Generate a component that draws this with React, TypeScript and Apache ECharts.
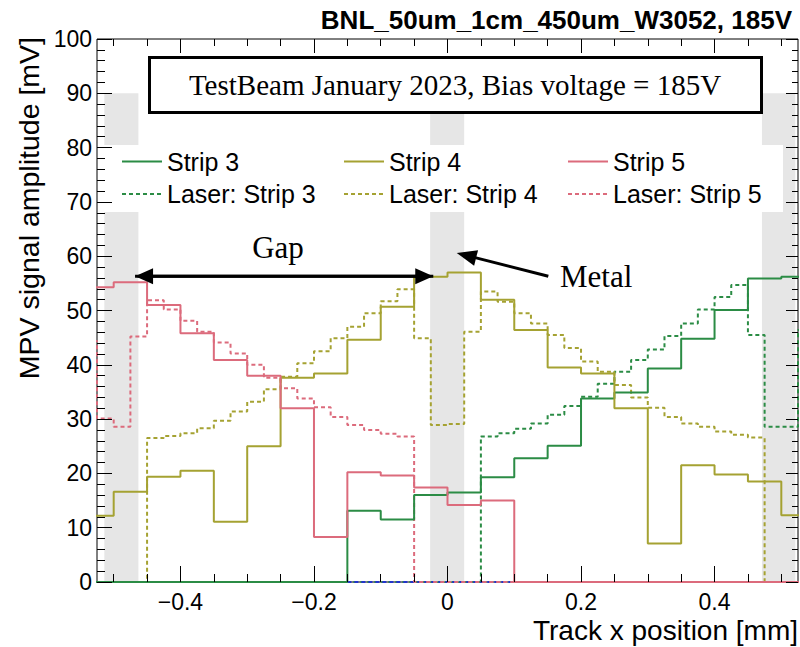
import React, { useEffect, useRef } from "react";
import * as echarts from "echarts";

// ---------- data ----------
const X_MIN = -0.525;
const X_MAX = 0.525;

// beam-test strips: bins of 0.05 mm starting at -0.55 mm
const STRIP_BIN_START = -0.55;
const STRIP_BIN_WIDTH = 0.05;
const strip3 = [0, 0, 0, 0, 0, 0, 0, 0, 13.1, 11.5, 16.0, 16.5, 19.3, 22.8, 25.1, 33.8, 34.9, 39.3, 44.8, 50.1, 55.9, 56.2];
const strip4 = [12.2, 16.6, 19.4, 20.5, 11.1, 25.0, 37.6, 38.4, 44.6, 50.7, 56.2, 57.0, 52.0, 46.4, 39.5, 38.4, 32.0, 7.1, 21.5, 19.8, 18.5, 12.3];
const strip5 = [54.3, 55.2, 51.0, 45.8, 40.9, 38.0, 32.0, 8.3, 20.2, 19.6, 17.4, 14.2, 15.0, 0, 0, 0, 0, 0, 0, 0, 0, 0];

// laser scan: bins of 0.025 mm starting at -0.55 mm
const LASER_BIN_START = -0.55;
const LASER_BIN_WIDTH = 0.025;
const laser3 = [
  0, 0, 0, 0, 0, 0, 0, 0, 0, 0, 0, 0, 0, 0, 0, 0, 0, 0, 0, 0, 0, 0, 0, 0,
  26.8, 27.4, 28.2, 29.2, 30.8, 32.4, 34.1, 36.5, 38.7, 40.9, 42.8, 45.3, 47.6, 50.2, 52.5, 54.7,
  45.5, 28.6, 28.6, 46.4,
];
const laser4 = [
  0, 0, 0, 0,
  26.5, 26.9, 27.4, 28.3, 29.7, 31.4, 33.2, 35.5, 37.8, 40.3, 42.5, 44.9, 47.0, 49.5, 51.7, 53.9,
  44.9, 28.9, 29.1, 46.1,
  53.5, 51.6, 49.5, 47.6, 45.5, 43.1, 40.6, 38.7, 36.3, 34.0, 32.1, 30.4, 29.2, 28.6, 27.7, 27.1, 26.6,
  0, 0, 0,
];
const laser5 = [
  44.4, 30.1, 28.6, 45.2,
  51.9, 50.2, 48.1, 46.1, 44.1, 42.1, 40.0, 37.6, 35.7, 33.8, 32.2, 30.4, 28.9, 28.0, 27.3, 26.8,
  0, 0, 0, 0, 0, 0, 0, 0, 0, 0, 0, 0, 0, 0, 0, 0, 0, 0, 0, 0, 0, 0, 0, 0,
];
// extra flat (zero) laser trace drawn in blue
const blueZero = [
  [-0.15, 0],
  [0.1, 0],
];

// metal regions [from, to] in mm and their height in mV
const metalBands = [
  [-0.514, -0.463],
  [-0.026, 0.025],
  [0.471, 0.521],
];
const METAL_TOP = 90;

// axis ticks
const majorXTicks = [-0.4, -0.2, 0, 0.2, 0.4];
const minorXTicks = [-0.5, -0.45, -0.35, -0.3, -0.25, -0.15, -0.1, -0.05, 0.05, 0.1, 0.15, 0.25, 0.3, 0.35, 0.45, 0.5];

// annotation anchors (data coordinates)
const gapArrow = { from: [-0.468, 56.3], to: [-0.0213, 56.3] };
const metalArrow = { from: [0.151, 56.3], to: [0.0138, 60.6] };

const TITLE = "BNL_50um_1cm_450um_W3052, 185V";
const BOX_TEXT = "TestBeam January 2023, Bias voltage = 185V";
const X_TITLE = "Track x position [mm]";
const Y_TITLE = "MPV signal amplitude [mV]";

const GREEN = "#2b8c45";
const OLIVE = "#a5a232";
const PINK = "#dc6b7c";
const BLUE = "#2233cc";

const sans = "'Liberation Sans', Arial, Helvetica, sans-serif";
const serif = "'Liberation Serif', 'Times New Roman', serif";

function histPoints(values: number[], start: number, width: number) {
  const pts: number[][] = values.map((v, i) => [start + i * width, v]);
  pts.push([start + values.length * width, values[values.length - 1]]);
  return pts;
}

function stepSeries(name: string, data: number[][], color: string, dashed: boolean, z: number) {
  return {
    name,
    type: "line",
    data,
    step: "end",
    symbol: "none",
    showSymbol: false,
    silent: true,
    z,
    lineStyle: { color, width: 2, type: dashed ? [4, 3] : "solid" },
    itemStyle: { color },
  };
}

const legendDefs = [
  { name: "Strip 3", left: 121, top: 149 },
  { name: "Strip 4", left: 343, top: 149 },
  { name: "Strip 5", left: 567, top: 149 },
  { name: "Laser: Strip 3", left: 121, top: 181.5 },
  { name: "Laser: Strip 4", left: 343, top: 181.5 },
  { name: "Laser: Strip 5", left: 567, top: 181.5 },
];

function fmtX(v: number) {
  if (Math.abs(v) < 1e-9) return "0";
  const s = Math.abs(v).toFixed(1);
  return v < 0 ? "\u2212" + s : s;
}

function arrowElements(id: string, a: number[], b: number[], headLen: number, headHalf: number) {
  const dx = b[0] - a[0];
  const dy = b[1] - a[1];
  const len = Math.sqrt(dx * dx + dy * dy);
  const ux = dx / len;
  const uy = dy / len;
  const nx = -uy;
  const ny = ux;
  const bx = b[0] - ux * headLen;
  const by = b[1] - uy * headLen;
  return [
    {
      id: id + "-line",
      type: "line",
      shape: { x1: a[0], y1: a[1], x2: bx + ux * 2, y2: by + uy * 2 },
      style: { stroke: "#000", lineWidth: 3 },
      z: 40,
      silent: true,
    },
    {
      id: id + "-head",
      type: "polygon",
      shape: {
        points: [
          [b[0], b[1]],
          [bx + nx * headHalf, by + ny * headHalf],
          [bx - nx * headHalf, by - ny * headHalf],
        ],
      },
      style: { fill: "#000" },
      z: 40,
      silent: true,
    },
  ];
}

export default function App() {
  const ref = useRef<HTMLDivElement>(null);

  useEffect(() => {
    document.body.style.margin = "0";
    if (!ref.current) return;
    const chart = echarts.init(ref.current, null, { renderer: "svg" });

    const axisTickBase = { show: true, inside: true, lineStyle: { color: "#000", width: 1 } };
    const noLine = { show: false, onZero: false };

    const option: any = {
      animation: false,
      backgroundColor: "#fff",
      grid: {
        left: 97,
        right: 2,
        top: 39,
        bottom: 65,
        show: true,
        borderColor: "#000",
        borderWidth: 1,
        backgroundColor: "transparent",
        containLabel: false,
        outerBoundsMode: "none",
      },
      xAxis: [
        {
          type: "value",
          position: "bottom",
          min: X_MIN,
          max: X_MAX,
          axisLine: noLine,
          splitLine: { show: false },
          axisTick: { ...axisTickBase, length: 16, customValues: majorXTicks },
          axisLabel: {
            show: true,
            customValues: majorXTicks,
            formatter: fmtX,
            fontSize: 23,
            fontFamily: sans,
            color: "#000",
            margin: 8,
          },
          z: 20,
        },
        {
          type: "value",
          position: "bottom",
          min: X_MIN,
          max: X_MAX,
          axisLine: noLine,
          splitLine: { show: false },
          axisTick: { ...axisTickBase, length: 8, customValues: minorXTicks },
          axisLabel: { show: false },
          z: 20,
        },
        {
          type: "value",
          position: "top",
          min: X_MIN,
          max: X_MAX,
          axisLine: noLine,
          splitLine: { show: false },
          axisTick: { ...axisTickBase, length: 14, customValues: majorXTicks },
          axisLabel: { show: false },
          z: 20,
        },
        {
          type: "value",
          position: "top",
          min: X_MIN,
          max: X_MAX,
          axisLine: noLine,
          splitLine: { show: false },
          axisTick: { ...axisTickBase, length: 7, customValues: minorXTicks },
          axisLabel: { show: false },
          z: 20,
        },
      ],
      yAxis: [
        {
          type: "value",
          position: "left",
          min: 0,
          max: 100,
          interval: 10,
          axisLine: noLine,
          splitLine: { show: false },
          axisTick: { ...axisTickBase, length: 15 },
          minorTick: { show: true, splitNumber: 5, length: 8, lineStyle: { color: "#000", width: 1 } },
          minorSplitLine: { show: false },
          axisLabel: { fontSize: 23, fontFamily: sans, color: "#000", margin: 5 },
          z: 20,
        },
        {
          type: "value",
          position: "right",
          min: 0,
          max: 100,
          interval: 10,
          axisLine: noLine,
          splitLine: { show: false },
          axisTick: { ...axisTickBase, length: 12 },
          minorTick: { show: true, splitNumber: 5, length: 6, lineStyle: { color: "#000", width: 1 } },
          minorSplitLine: { show: false },
          axisLabel: { show: false },
          z: 20,
        },
      ],
      legend: legendDefs.map((d) => ({
        data: [d.name],
        left: d.left,
        top: d.top,
        orient: "horizontal",
        padding: 0,
        itemWidth: 40,
        itemHeight: 14,
        itemGap: 0,
        selectedMode: false,
        itemStyle: { opacity: 0 },
        textStyle: { fontSize: 25, fontFamily: sans, color: "#000" },
        z: 30,
      })),
      series: [
        {
          name: "metal",
          type: "line",
          data: [],
          silent: true,
          z: 1,
          markArea: {
            silent: true,
            itemStyle: { color: "#e6e6e6" },
            label: { show: false },
            data: metalBands.map((b) => [
              { xAxis: b[0], yAxis: 0 },
              { xAxis: b[1], yAxis: METAL_TOP },
            ]),
          },
        },
        stepSeries("Laser: Strip 3", histPoints(laser3, LASER_BIN_START, LASER_BIN_WIDTH), GREEN, true, 3),
        {
          name: "zero",
          type: "line",
          data: blueZero,
          symbol: "none",
          silent: true,
          z: 3,
          lineStyle: { color: BLUE, width: 2, type: [4, 3] },
        },
        stepSeries("Laser: Strip 5", histPoints(laser5, LASER_BIN_START, LASER_BIN_WIDTH), PINK, true, 3),
        stepSeries("Laser: Strip 4", histPoints(laser4, LASER_BIN_START, LASER_BIN_WIDTH), OLIVE, true, 3),
        stepSeries("Strip 3", histPoints(strip3, STRIP_BIN_START, STRIP_BIN_WIDTH), GREEN, false, 4),
        stepSeries("Strip 4", histPoints(strip4, STRIP_BIN_START, STRIP_BIN_WIDTH), OLIVE, false, 4),
        stepSeries("Strip 5", histPoints(strip5, STRIP_BIN_START, STRIP_BIN_WIDTH), PINK, false, 4),
      ],
    };

    chart.setOption(option);

    const toPx = (p: number[]) => chart.convertToPixel({ gridIndex: 0 } as any, p) as number[];

    const graphic: any[] = [
      {
        id: "legend-bg",
        type: "rect",
        shape: { x: 98, y: 145, width: 685, height: 67 },
        style: { fill: "#fff" },
        z: 10,
        silent: true,
      },
      {
        id: "box",
        type: "rect",
        shape: { x: 149.5, y: 57.5, width: 612, height: 55 },
        style: { fill: "#fff", stroke: "#000", lineWidth: 3 },
        z: 10,
        silent: true,
      },
      {
        id: "box-text",
        type: "text",
        x: 455,
        y: 84.5,
        style: {
          text: BOX_TEXT,
          fontSize: 29,
          fontFamily: serif,
          fill: "#000",
          textAlign: "center",
          textVerticalAlign: "middle",
        },
        z: 11,
        silent: true,
      },
      {
        id: "title",
        type: "text",
        x: 792,
        y: 19.6,
        style: {
          text: TITLE,
          fontSize: 26,
          fontWeight: "bold",
          fontFamily: sans,
          fill: "#000",
          textAlign: "right",
          textVerticalAlign: "middle",
        },
        silent: true,
      },
      {
        id: "xtitle",
        type: "text",
        x: 798,
        y: 630.3,
        style: {
          text: X_TITLE,
          fontSize: 28,
          fontFamily: sans,
          fill: "#000",
          textAlign: "right",
          textVerticalAlign: "middle",
        },
        silent: true,
      },
      {
        id: "ytitle",
        type: "text",
        x: 29,
        y: 37,
        rotation: Math.PI / 2,
        style: {
          text: Y_TITLE,
          fontSize: 28.5,
          fontFamily: sans,
          fill: "#000",
          textAlign: "right",
          textVerticalAlign: "middle",
        },
        silent: true,
      },
      {
        id: "gap-text",
        type: "text",
        x: 278,
        y: 247.2,
        style: {
          text: "Gap",
          fontSize: 31,
          fontFamily: serif,
          fill: "#000",
          textAlign: "center",
          textVerticalAlign: "middle",
        },
        z: 40,
        silent: true,
      },
      {
        id: "metal-text",
        type: "text",
        x: 560,
        y: 276.2,
        style: {
          text: "Metal",
          fontSize: 31,
          fontFamily: serif,
          fill: "#000",
          textAlign: "left",
          textVerticalAlign: "middle",
        },
        z: 40,
        silent: true,
      },
    ];

    const g1 = toPx(gapArrow.from);
    const g2 = toPx(gapArrow.to);
    graphic.push(...arrowElements("gapR", g1, g2, 18, 8));
    graphic.push(...arrowElements("gapL", g2, g1, 18, 8));
    const m1 = toPx(metalArrow.from);
    const m2 = toPx(metalArrow.to);
    graphic.push(...arrowElements("metal", m1, m2, 20, 8));

    chart.setOption({ graphic });

    return () => {
      chart.dispose();
    };
  }, []);

  return <div ref={ref} style={{ width: 800, height: 647 }} />;
}
